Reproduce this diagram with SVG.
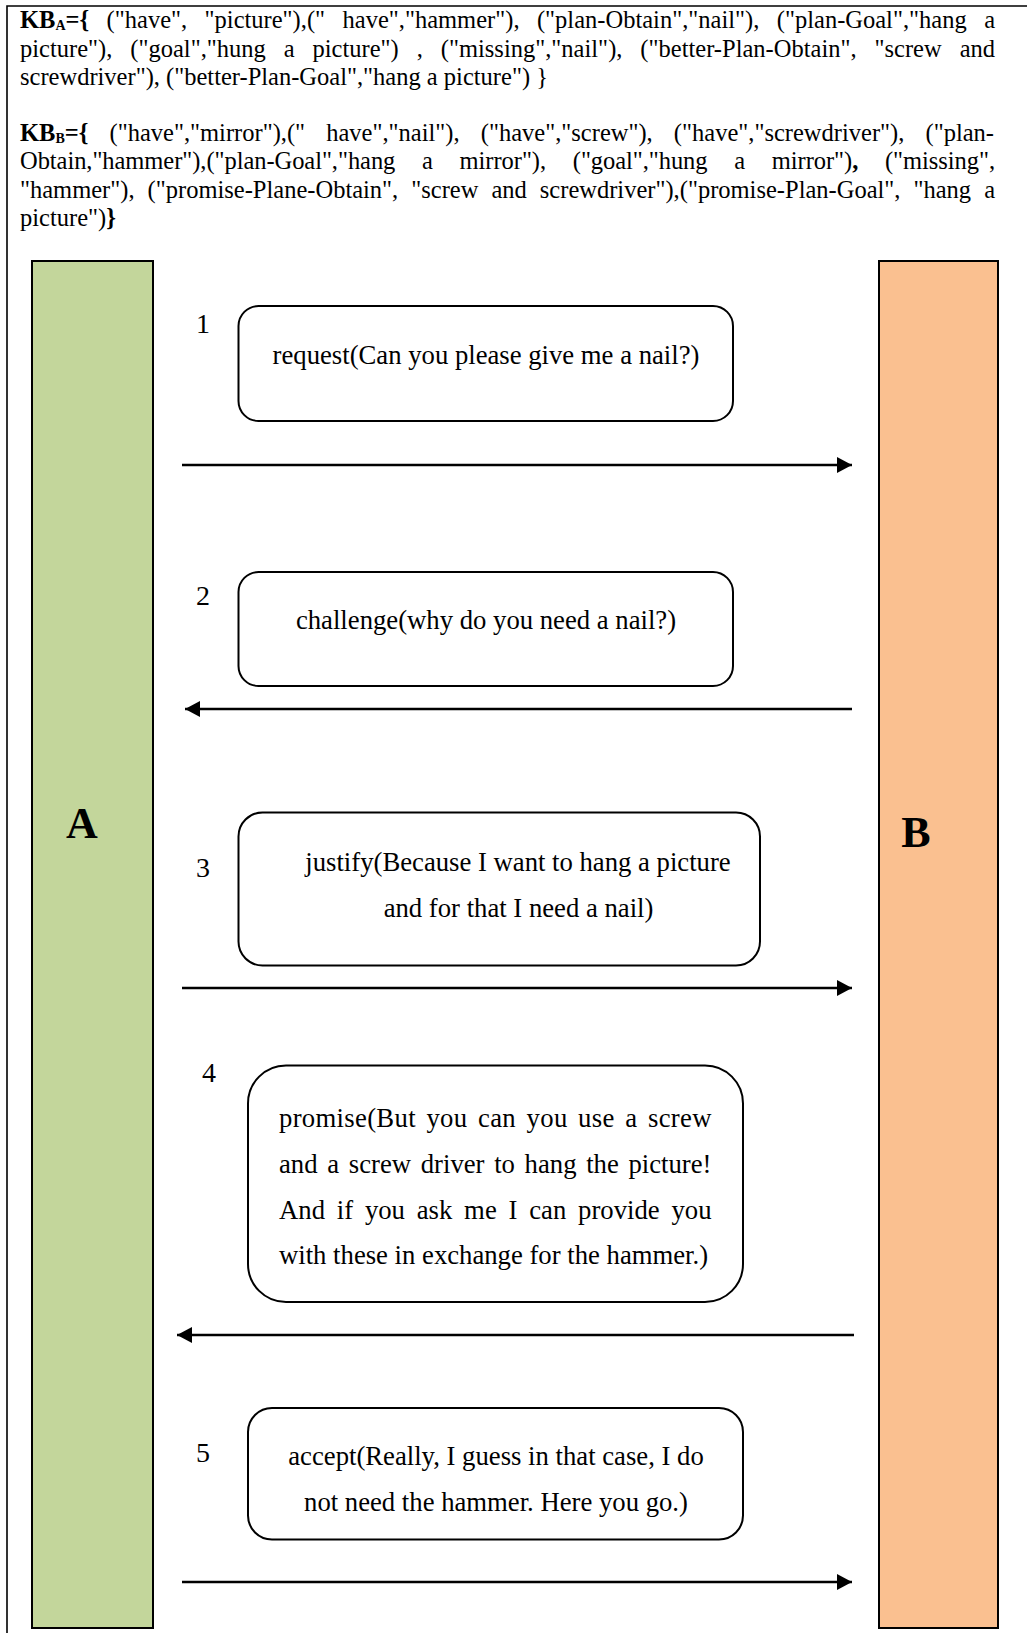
<svg xmlns="http://www.w3.org/2000/svg" width="1027" height="1633" viewBox="0 0 1027 1633">
<defs>
<style>
.kb{font-family:"Liberation Serif","Times New Roman",serif;font-size:24.5px;fill:#000}
.b{font-weight:bold}
.sub{font-size:14px;font-weight:bold}
.msg{font-family:"Liberation Serif","Times New Roman",serif;font-size:26.7px;fill:#000}
.num{font-family:"Liberation Serif","Times New Roman",serif;font-size:28px;fill:#000;text-anchor:middle}
.lbl{font-family:"Liberation Serif","Times New Roman",serif;font-size:44px;font-weight:bold;fill:#000;text-anchor:middle}
.box{fill:#fff;stroke:#000;stroke-width:2}
.lane{stroke:#000;stroke-width:2}
.conn{stroke:#000;stroke-width:2.5;fill:none;marker-end:url(#ah)}
</style>
<marker id="ah" markerUnits="userSpaceOnUse" markerWidth="16" markerHeight="16" refX="15" refY="8" orient="auto">
<path d="M0,0 L15,8 L0,16 Z" fill="#000"/>
</marker>
</defs>
<rect width="1027" height="1633" fill="#fff"/>
<path d="M7,1633 V6 H1027" fill="none" stroke="#000" stroke-width="1.6"/>

<g id="kb-text">
<text class="kb" x="20" y="28" style="word-spacing:11.3px" textLength="975" lengthAdjust="spacing"><tspan class="b">KB</tspan><tspan class="sub" dy="2">A</tspan><tspan class="b" dy="-2">={</tspan> ("have", "picture"),(" have","hammer"), ("plan-Obtain","nail"), ("plan-Goal","hang a</text>
<text class="kb" x="20" y="56.5" style="word-spacing:11.8px" textLength="975" lengthAdjust="spacing">picture"), ("goal","hung a picture") , ("missing","nail"), ("better-Plan-Obtain", "screw and</text>
<text class="kb" x="20" y="84.5">screwdriver"), ("better-Plan-Goal","hang a picture") }</text>
<text class="kb" x="20" y="141" style="word-spacing:15px" textLength="974" lengthAdjust="spacing"><tspan class="b">KB</tspan><tspan class="sub" dy="2">B</tspan><tspan class="b" dy="-2">={</tspan> ("have","mirror"),(" have","nail"), ("have","screw"), ("have","screwdriver"), ("plan-</text>
<text class="kb" x="20" y="169" style="word-spacing:20.7px" textLength="975" lengthAdjust="spacing">Obtain,"hammer"),("plan-Goal","hang a mirror"), ("goal","hung a mirror")<tspan class="b">,</tspan> ("missing",</text>
<text class="kb" x="20" y="197.5" style="word-spacing:6.9px" textLength="975" lengthAdjust="spacing">"hammer"), ("promise-Plane-Obtain", "screw and screwdriver"),("promise-Plan-Goal", "hang a</text>
<text class="kb" x="20" y="226">picture")<tspan class="b">}</tspan></text>
</g>

<g id="lane-A">
<rect class="lane" x="32" y="261" width="121" height="1367" fill="#C3D69B"/>
<text class="lbl" x="82" y="838">A</text>
</g>
<g id="lane-B">
<rect class="lane" x="879" y="261" width="119" height="1367" fill="#FAC090"/>
<text class="lbl" x="916" y="847">B</text>
</g>

<g id="msg1">
<text class="num" x="203" y="333">1</text>
<rect class="box" x="238.5" y="306" width="494.5" height="115" rx="20"/>
<text class="msg" x="486" y="364" text-anchor="middle">request(Can you please give me a nail?)</text>
</g>
<g id="msg2">
<text class="num" x="203" y="605">2</text>
<rect class="box" x="238.5" y="572" width="494.5" height="114" rx="20"/>
<text class="msg" x="486" y="629" text-anchor="middle">challenge(why do you need a nail?)</text>
</g>
<g id="msg3">
<text class="num" x="203" y="877">3</text>
<rect class="box" x="238.5" y="812.5" width="521.5" height="153" rx="24"/>
<text class="msg" x="518" y="871" text-anchor="middle">justify(Because I want to hang a picture</text>
<text class="msg" x="518.5" y="917" text-anchor="middle">and for that I need a nail)</text>
</g>
<g id="msg4">
<text class="num" x="209" y="1082">4</text>
<rect class="box" x="248" y="1065.5" width="495" height="236.5" rx="38"/>
<text class="msg" x="279" y="1127" style="word-spacing:3.6px" textLength="432.5" lengthAdjust="spacing">promise(But you can you use a screw</text>
<text class="msg" x="279" y="1173" style="word-spacing:3px" textLength="432.5" lengthAdjust="spacing">and a screw driver to hang the picture!</text>
<text class="msg" x="279" y="1219" style="word-spacing:5.1px" textLength="432.5" lengthAdjust="spacing">And if you ask me I can provide you</text>
<text class="msg" x="279" y="1264">with these in exchange for the hammer.)</text>
</g>
<g id="msg5">
<text class="num" x="203" y="1462">5</text>
<rect class="box" x="248" y="1408" width="495" height="131.5" rx="24"/>
<text class="msg" x="496" y="1465" text-anchor="middle">accept(Really, I guess in that case, I do</text>
<text class="msg" x="496" y="1511" text-anchor="middle">not need the hammer. Here you go.)</text>
</g>

<g id="connectors">
<line class="conn" x1="182" y1="465" x2="852" y2="465"/>
<line class="conn" x1="852" y1="709" x2="185" y2="709"/>
<line class="conn" x1="182" y1="988" x2="852" y2="988"/>
<line class="conn" x1="854" y1="1335" x2="177" y2="1335"/>
<line class="conn" x1="182" y1="1582" x2="852" y2="1582"/>
</g>
</svg>
